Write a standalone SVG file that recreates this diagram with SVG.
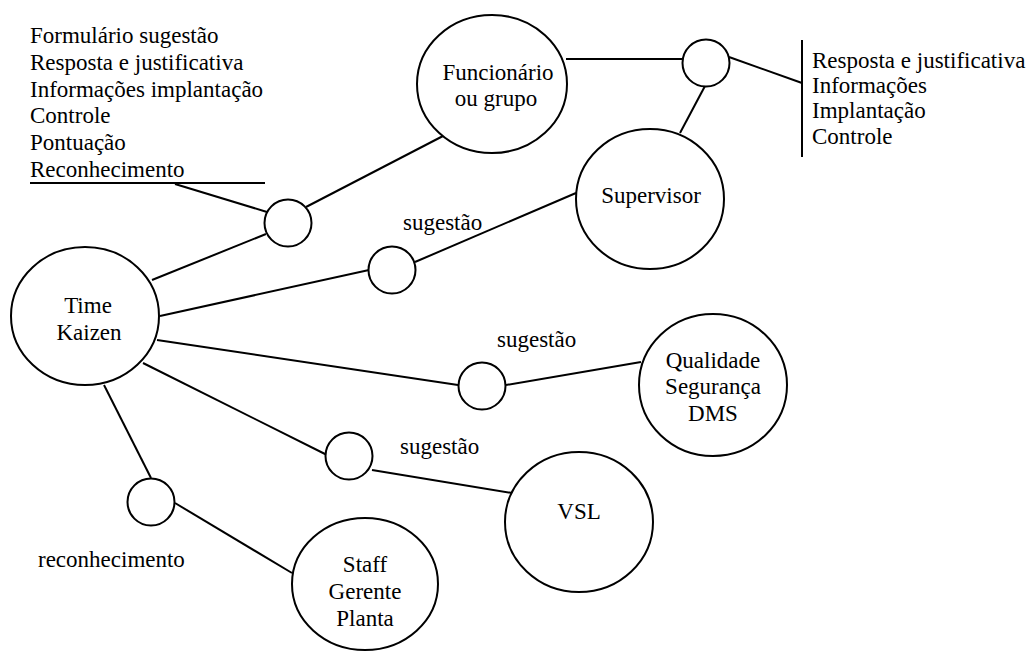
<svg xmlns="http://www.w3.org/2000/svg" width="1033" height="652" viewBox="0 0 1033 652">
  <style>
    .shape { fill: #ffffff; stroke: #000000; stroke-width: 2; }
    .link { stroke: #000000; stroke-width: 2; fill: none; }
    .txt { font-family: "Liberation Serif", Tinos, "Times New Roman", "DejaVu Serif", serif; font-size: 23px; fill: #000000; }
    .mid { text-anchor: middle; }
  </style>
  <rect x="0" y="0" width="1033" height="652" fill="#ffffff"/>

  <!-- connectors -->
  <g id="connectors" class="link">
    <line x1="30" y1="183" x2="265" y2="183"/>
    <line x1="175" y1="184" x2="267" y2="212"/>
    <line x1="152" y1="280" x2="266" y2="234"/>
    <line x1="306" y1="207" x2="443" y2="136"/>
    <line x1="160" y1="316" x2="369" y2="270"/>
    <line x1="415" y1="262" x2="576" y2="193"/>
    <line x1="566" y1="59" x2="683" y2="59"/>
    <line x1="705" y1="86" x2="680" y2="133"/>
    <line x1="729" y1="57" x2="802" y2="83"/>
    <line x1="802" y1="40" x2="802" y2="157"/>
    <line x1="157" y1="340" x2="458" y2="385"/>
    <line x1="506" y1="385" x2="641" y2="362"/>
    <line x1="143" y1="363" x2="327" y2="455"/>
    <line x1="372" y1="470" x2="512" y2="493"/>
    <line x1="104" y1="385" x2="151" y2="478"/>
    <line x1="175" y1="503" x2="292" y2="573"/>
  </g>

  <!-- junction circles -->
  <g id="junctions">
    <circle id="j1" class="shape" cx="288" cy="223" r="23.5"/>
    <circle id="j2" class="shape" cx="392" cy="270" r="23.5"/>
    <circle id="j3" class="shape" cx="349" cy="456" r="23.5"/>
    <circle id="j4" class="shape" cx="482" cy="386" r="23.5"/>
    <circle id="j5" class="shape" cx="151" cy="502" r="23.5"/>
    <circle id="j6" class="shape" cx="706" cy="63" r="23.5"/>
  </g>

  <g class="txt" font-family="Liberation Serif, Tinos, Times New Roman, DejaVu Serif, serif" font-size="23">
    <!-- main nodes -->
    <g id="time-kaizen">
      <ellipse class="shape" cx="85" cy="316" rx="74" ry="69"/>
      <text class="mid" x="88" y="313">Time</text>
      <text class="mid" x="89" y="340">Kaizen</text>
    </g>
    <g id="funcionario">
      <ellipse class="shape" cx="492" cy="84" rx="75" ry="69"/>
      <text class="mid" x="498" y="80">Funcionário</text>
      <text class="mid" x="496" y="106">ou grupo</text>
    </g>
    <g id="supervisor">
      <ellipse class="shape" cx="650" cy="199" rx="74" ry="70"/>
      <text class="mid" x="651" y="203">Supervisor</text>
    </g>
    <g id="qualidade">
      <ellipse class="shape" cx="713" cy="385" rx="74" ry="71"/>
      <text class="mid" x="713" y="368">Qualidade</text>
      <text class="mid" x="713" y="394">Segurança</text>
      <text class="mid" x="713" y="421">DMS</text>
    </g>
    <g id="vsl">
      <ellipse class="shape" cx="579" cy="522" rx="74" ry="70"/>
      <text class="mid" x="579" y="519">VSL</text>
    </g>
    <g id="staff">
      <ellipse class="shape" cx="365" cy="584" rx="73" ry="66"/>
      <text class="mid" x="365" y="572">Staff</text>
      <text class="mid" x="365" y="599">Gerente</text>
      <text class="mid" x="365" y="626">Planta</text>
    </g>

    <!-- document lists -->
    <g id="lista-time">
      <text x="30" y="43">Formulário sugestão</text>
      <text x="30" y="70">Resposta e justificativa</text>
      <text x="30" y="97">Informações implantação</text>
      <text x="30" y="123">Controle</text>
      <text x="30" y="150">Pontuação</text>
      <text x="30" y="177">Reconhecimento</text>
    </g>
    <g id="lista-funcionario">
      <text x="812" y="68">Resposta e justificativa</text>
      <text x="812" y="93">Informações</text>
      <text x="812" y="118">Implantação</text>
      <text x="812" y="144">Controle</text>
    </g>

    <!-- flow labels -->
    <g id="labels">
      <text x="403" y="230">sugestão</text>
      <text x="497" y="347">sugestão</text>
      <text x="400" y="454">sugestão</text>
      <text x="38" y="567">reconhecimento</text>
    </g>
  </g>
</svg>
